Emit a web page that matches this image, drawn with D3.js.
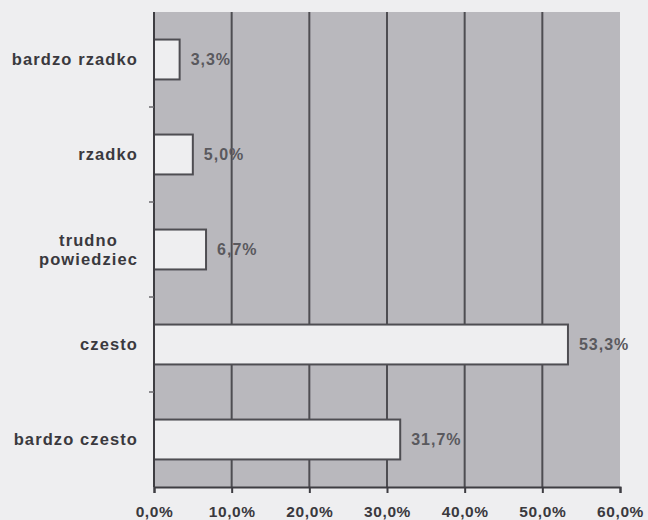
<!DOCTYPE html>
<html>
<head>
<meta charset="utf-8">
<script src="https://cdn.jsdelivr.net/npm/d3@7"></script>
<style>
  body { margin: 0; background: #eeeef0; }
  svg text { font-family: "Liberation Sans", Arial, sans-serif; font-weight: bold; }
</style>
</head>
<body>
<svg id="chart" width="648" height="520"></svg>
<script>
// Data, top to bottom
const categories = ['bardzo rzadko', 'rzadko', 'trudno powiedziec', 'czesto', 'bardzo czesto'];
const labelLines = [['bardzo rzadko'], ['rzadko'], ['trudno', 'powiedziec'], ['czesto'], ['bardzo czesto']];
const values = [3.3, 5.0, 6.7, 53.3, 31.7];
const valueLabels = ['3,3%', '5,0%', '6,7%', '53,3%', '31,7%'];
const xTicks = [0, 10, 20, 30, 40, 50, 60];
const xTickLabels = ['0,0%', '10,0%', '20,0%', '30,0%', '40,0%', '50,0%', '60,0%'];

const margin = { left: 154, right: 28, top: 12, bottom: 33 };
const width = 648 - margin.left - margin.right;
const height = 520 - margin.top - margin.bottom;

const svg = d3.select('#chart');
const chart = svg.append('g')
  .attr('transform', `translate(${margin.left}, ${margin.top})`);

const x = d3.scaleLinear().domain([0, 60]).range([0, width]);
const y = d3.scaleBand().domain(categories).range([0, height]).paddingInner(0.58).paddingOuter(0.29);

// plot background
chart.append('rect')
  .attr('width', width)
  .attr('height', height)
  .attr('fill', '#b9b8bd');

// vertical gridlines
chart.selectAll('.grid')
  .data(xTicks.slice(1, -1))
  .enter()
  .append('line')
    .attr('x1', (d) => x(d))
    .attr('x2', (d) => x(d))
    .attr('y1', 0)
    .attr('y2', height)
    .attr('stroke', '#4e4d52')
    .attr('stroke-width', 2);

// bars
chart.selectAll('.bar')
  .data(values)
  .enter()
  .append('rect')
    .attr('x', 0)
    .attr('y', (d, i) => y(categories[i]))
    .attr('width', (d) => x(d))
    .attr('height', y.bandwidth())
    .attr('fill', '#eeeef0')
    .attr('stroke', '#4e4d52')
    .attr('stroke-width', 2);

// value labels
chart.selectAll('.val')
  .data(values)
  .enter()
  .append('text')
    .attr('x', (d) => x(d) + 11)
    .attr('y', (d, i) => y(categories[i]) + y.bandwidth() / 2)
    .attr('dy', '0.36em')
    .attr('font-size', 16)
    .attr('letter-spacing', 1)
    .attr('fill', '#5a595e')
    .text((d, i) => valueLabels[i]);

// left axis: line + ticks at category boundaries
const step = y.step();
const bounds = d3.range(1, categories.length).map((i) => y(categories[i]) - step * y.paddingInner() / 2);
chart.append('line')
  .attr('x1', 0).attr('x2', 0)
  .attr('y1', 0).attr('y2', height)
  .attr('stroke', '#3e3d42')
  .attr('stroke-width', 2);
chart.selectAll('.ytick')
  .data(bounds)
  .enter()
  .append('line')
    .attr('x1', -5).attr('x2', 0)
    .attr('y1', (d) => d).attr('y2', (d) => d)
    .attr('stroke', '#6a696e')
    .attr('stroke-width', 1.5);

// category labels
const catLabels = chart.selectAll('.cat')
  .data(labelLines)
  .enter()
  .append('text')
    .attr('font-size', 16.5)
    .attr('letter-spacing', 1.1)
    .attr('fill', '#3a393e')
    .attr('text-anchor', (d) => d.length > 1 ? 'middle' : 'end')
    .attr('y', (d, i) => y(categories[i]) + y.bandwidth() / 2);
catLabels.each(function (lines) {
  const t = d3.select(this);
  lines.forEach((line, j) => {
    t.append('tspan')
      .attr('x', 0)
      .attr('dy', j === 0 ? `${0.36 - (lines.length - 1) * 0.6}em` : '1.2em')
      .text(line);
  });
  if (lines.length > 1) {
    const w = this.getBBox().width;
    t.selectAll('tspan').attr('x', -16 - w / 2);
  } else {
    t.selectAll('tspan').attr('x', -16);
  }
});

// bottom axis
const xAxis = chart.append('g')
  .attr('transform', `translate(0, ${height})`)
  .call(d3.axisBottom(x).tickValues(xTicks).tickSize(6).tickFormat((d, i) => xTickLabels[i]));
xAxis.select('.domain').attr('stroke', '#3e3d42').attr('stroke-width', 2);
xAxis.selectAll('.tick line').attr('stroke', '#3e3d42').attr('stroke-width', 2);
xAxis.selectAll('.tick text')
  .attr('font-size', 15.5)
  .attr('letter-spacing', 0.6)
  .attr('fill', '#3a393e')
  .attr('dy', 0)
  .attr('y', 30);
</script>
</body>
</html>
